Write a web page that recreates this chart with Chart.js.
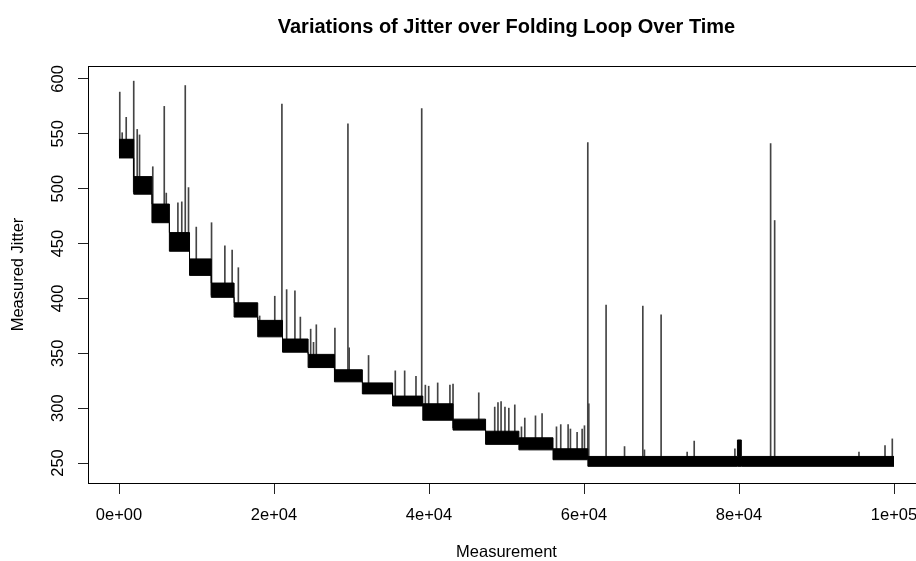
<!DOCTYPE html>
<html><head><meta charset="utf-8">
<script src="https://cdn.jsdelivr.net/npm/chart.js@4.4.1/dist/chart.umd.min.js"></script>
<style>
html,body{margin:0;padding:0;background:#fff;overflow:hidden;width:916px;height:561px;}
#wrap{width:934px;height:561px;}
canvas{display:block;}
</style></head><body>
<div id="wrap"><canvas id="c" width="934" height="561"></canvas></div>
<script>
// Step levels of the jitter band (measurement index where each level starts, band low/high)
const stepStart = [0, 1900, 4250, 6500, 9100, 11900, 14850, 17900, 21100, 24400, 27800, 31400, 35300, 39200, 43100, 47300, 51600, 56000, 60500, 79800, 80300, 100000];
const stepLow   = [528, 495, 469, 443, 421, 401, 383, 365, 351, 337, 324, 313, 302, 289, 280, 267, 262, 253, 247, 247, 247];
const stepHigh  = [545, 511, 486, 460, 436, 414, 396, 380, 363, 349, 335, 323, 311, 304, 290, 279, 273, 263, 256, 271, 256];

// Isolated spikes (measurement index, peak jitter)
const spikeX   = [100, 410, 930, 1900, 2350, 2650, 4360, 5840, 6100, 7600, 8100, 8550, 8970, 9970, 11940, 13660, 14600, 15400, 18150, 20100, 21020, 21630, 22700, 23400, 24730, 25100, 25460, 27860, 29540, 29700, 32200, 35650, 36860, 38320, 39060, 39530, 39960, 41120, 42700, 43100, 46420, 48480, 48900, 49300, 49800, 50300, 51070, 51930, 52360, 53740, 54590, 56450, 57000, 57950, 58250, 59110, 59760, 60060, 60490, 60620, 62850, 65230, 67590, 67800, 69950, 73310, 74220, 79470, 84080, 84600, 95480, 98840, 99780];
const spikeTop = [588, 551, 565, 598, 554, 549, 520, 575, 496, 487, 488, 594, 501, 465, 469, 448, 444, 428, 384, 402, 577, 408, 407, 383, 372, 360, 376, 373, 559, 355, 348, 334, 334, 329, 573, 321, 320, 323, 321, 322, 314, 301, 305, 306, 301, 300, 303, 283, 291, 293, 295, 283, 285, 285, 281, 278, 281, 284, 542, 304, 394, 265, 393, 262, 385, 260, 270, 263, 541, 471, 260, 266, 272];

// Axis ticks
const xTickValues = [0, 20000, 40000, 60000, 80000, 100000];
const xTickLabels = ['0e+00', '2e+04', '4e+04', '6e+04', '8e+04', '1e+05'];
const yTickValues = [250, 300, 350, 400, 450, 500, 550, 600];
const yTickLabels = ['250', '300', '350', '400', '450', '500', '550', '600'];

const FONT = 'Liberation Sans, Arial, Helvetica, sans-serif';

function levelAt(x) {
  let k = 0;
  for (let i = 0; i < stepLow.length; i++) if (stepStart[i] <= x) k = i;
  return k;
}
const lowPts = stepStart.map((x, i) => ({x, y: stepLow[Math.min(i, stepLow.length - 1)]}));
const highPts = stepStart.map((x, i) => ({x, y: stepHigh[Math.min(i, stepHigh.length - 1)]}));
const spikePts = spikeX.map((x, i) => ({x, y: [stepLow[levelAt(x)] + 2, spikeTop[i]]}));

const boxPlugin = {
  id: 'box',
  afterDraw(chart) {
    const {ctx, chartArea: a} = chart;
    ctx.save();
    ctx.strokeStyle = '#000';
    ctx.lineWidth = 1;
    ctx.strokeRect(Math.round(a.left) + 0.5, Math.round(a.top) + 0.5, Math.round(a.right - a.left), Math.round(a.bottom - a.top));
    ctx.restore();
  }
};

new Chart(document.getElementById('c'), {
  type: 'line',
  data: {
    datasets: [
      {type: 'bar', data: spikePts, backgroundColor: '#444', borderWidth: 0, barThickness: 1, order: 3},
      {type: 'line', data: lowPts, stepped: 'before', borderColor: '#000', borderWidth: 1, pointRadius: 0, fill: false, order: 2},
      {type: 'line', data: highPts, stepped: 'before', borderColor: '#000', borderWidth: 1, pointRadius: 0, fill: '-1', backgroundColor: '#000', order: 1}
    ]
  },
  options: {
    responsive: false,
    animation: false,
    events: [],
    layout: {padding: {left: 0, right: 9, top: 0, bottom: 0}},
    plugins: {
      legend: {display: false},
      tooltip: {enabled: false},
      title: {
        display: true,
        text: 'Variations of Jitter over Folding Loop Over Time',
        color: '#000',
        fullSize: false,
        font: {family: FONT, size: 20, weight: 'bold', lineHeight: 1.2},
        padding: {top: 15, bottom: 27}
      }
    },
    scales: {
      x: {
        type: 'linear', min: -4000, max: 104000, offset: false,
        afterBuildTicks: s => { s.ticks = xTickValues.map(v => ({value: v})); },
        afterFit: s => { s.height = 78; },
        ticks: {callback: (v, i) => xTickLabels[i], color: '#000', font: {family: FONT, size: 16.5}, padding: 12, maxRotation: 0, minRotation: 0, autoSkip: false},
        grid: {display: true, drawOnChartArea: false, drawTicks: true, tickLength: 11, color: '#222', offset: false},
        border: {display: false},
        title: {display: true, text: 'Measurement', color: '#000', font: {family: FONT, size: 16.5, lineHeight: 1}, padding: {top: 0, bottom: 0}}
      },
      y: {
        type: 'linear', min: 231.8, max: 611.8,
        afterBuildTicks: s => { s.ticks = yTickValues.map(v => ({value: v})); },
        afterFit: s => { s.width = 88; },
        ticks: {callback: (v, i) => yTickLabels[i], color: '#000', font: {family: FONT, size: 16.5}, padding: 6, minRotation: 90, maxRotation: 90, crossAlign: 'center', autoSkip: false},
        grid: {display: true, drawOnChartArea: false, drawTicks: true, tickLength: 10, color: '#222'},
        border: {display: false},
        title: {display: true, text: 'Measured Jitter', color: '#000', font: {family: FONT, size: 16.5, lineHeight: 1.2}, padding: {top: 8.6, bottom: 0}}
      }
    }
  },
  plugins: [boxPlugin]
});
</script>
</body></html>
